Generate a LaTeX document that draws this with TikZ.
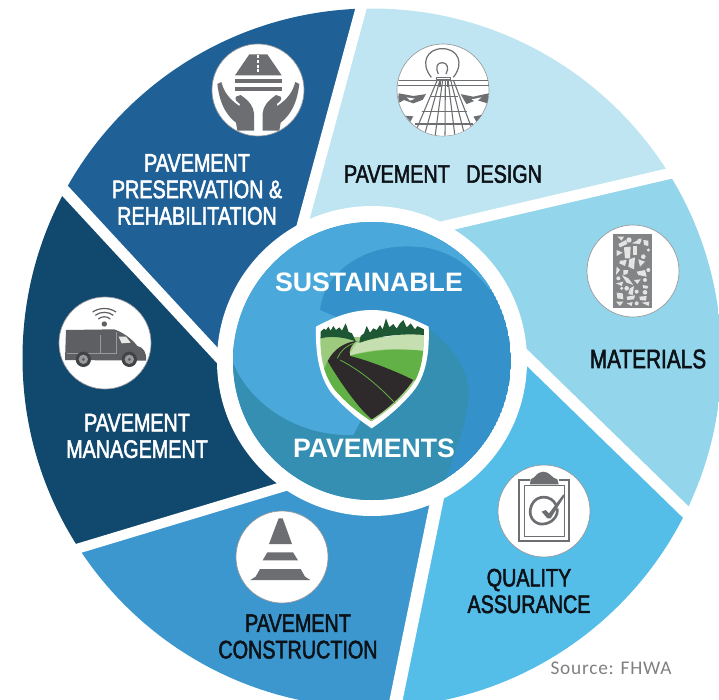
\documentclass[tikz,border=0pt]{standalone}
\usepackage{fontspec}
\setmainfont{Liberation Sans}
\newfontfamily\labfont[FakeStretch=.78,FakeBold=2]{Liberation Sans}
\newfontfamily\srcfont[LetterSpace=4]{Carlito}
\definecolor{cPres}{HTML}{1F6196}
\definecolor{cMgmt}{HTML}{10486E}
\definecolor{cCons}{HTML}{3B97CE}
\definecolor{cQual}{HTML}{54BDE8}
\definecolor{cMatl}{HTML}{93D5EB}
\definecolor{cDesn}{HTML}{BEE5F1}
\definecolor{cLite}{HTML}{4AA9DA}
\definecolor{cMid}{HTML}{3591C9}
\definecolor{cTeal}{HTML}{348FB3}
\definecolor{cIcon}{HTML}{6D6E71}
\definecolor{cVan}{HTML}{5E5F62}
\definecolor{cInk}{HTML}{0C1218}
\definecolor{cRoad}{HTML}{2E292B}
\definecolor{cTree}{HTML}{1D5733}
\definecolor{cGrnA}{HTML}{9CCB7E}
\definecolor{cGrnB}{HTML}{C6DFB0}
\definecolor{cGrnC}{HTML}{62B146}
\definecolor{cStone}{HTML}{E4E4E4}
\tikzset{
  zoomed/.style 2 args={shift={(#1,#2)},x=.25pt,y=-.25pt},
  gap/.style={draw=white,line width=#1*.75pt},
  icondisc/.style={circle,fill=white,draw=cIcon!70,line width=.5pt,minimum size=69pt,inner sep=0pt},
  seglabel/.style={align=center,font=\labfont\fontsize{19}{19.9}\selectfont},
  hublabel/.style={text=white,font=\bfseries\fontsize{20}{22}\selectfont,inner sep=0pt},
  thinink/.style={draw=cIcon,line width=.8pt}
}
\begin{document}
\begin{tikzpicture}[x=.75pt,y=-.75pt]
\useasboundingbox (0,0) rectangle (719,700);
\clip (0,0) rectangle (719,700);
\coordinate (c) at (372,361);
\coordinate (s1i) at (295,252); \coordinate (s1o) at (366,-10);
\coordinate (s2i) at (420,232); \coordinate (s2o) at (740,157);
\coordinate (s3i) at (515,346); \coordinate (s3o) at (730,555);
\coordinate (s4i) at (446,456); \coordinate (s4o) at (393,715);
\coordinate (s5i) at (310,478.5); \coordinate (s5o) at (40,560);
\coordinate (s6i) at (240,380); \coordinate (s6o) at (30,153);
% ---- wheel segments
\begin{scope}
\clip (372,358) circle [radius=349.5];
\fill[cPres] (c)--(s6i)--(s6o)--(-30,-30)--(s1o)--(s1i)--cycle;
\fill[cDesn] (c)--(s1i)--(s1o)--(760,-30)--(s2o)--(s2i)--cycle;
\fill[cMatl] (c)--(s2i)--(s2o)--(800,300)--(s3o)--(s3i)--cycle;
\fill[cQual] (c)--(s3i)--(s3o)--(760,760)--(s4o)--(s4i)--cycle;
\fill[cCons] (c)--(s4i)--(s4o)--(-20,760)--(s5o)--(s5i)--cycle;
\fill[cMgmt] (c)--(s5i)--(s5o)--(-60,300)--(s6o)--(s6i)--cycle;
\end{scope}
% ---- white separators and ring
\draw[gap=11] (s1i)--(s1o);
\draw[gap=11] (s2i)--(s2o);
\draw[gap=12] (s3i)--(s3o);
\draw[gap=13] (s4i)--(s4o);
\draw[gap=10] (s5i)--(s5o);
\draw[gap=11] (s6i)--(s6o);
\fill[white] (c) circle [radius=155];
% ---- hub disc with swirl
\begin{scope}
\clip (c) circle [radius=139];
\fill[cMid] (c) circle [radius=139];
\begin{scope}[zoomed={200}{230}]
\fill[cTeal] (500,300) -- (690,300) .. controls (770,360) and (815,440) .. (805,510)
  .. controls (795,600) and (760,680) .. (700,850) -- (0,850) -- (0,350) -- cycle;
\fill[cLite] (100,400) .. controls (150,520) and (290,620) .. (460,615)
  -- (520,500) -- (500,300) -- (360,240)
  .. controls (370,130) and (490,40) .. (640,50)
  .. controls (730,50) and (810,100) .. (870,180)
  -- (900,-60) -- (0,-60) -- (0,400) -- cycle;
\end{scope}
\end{scope}
% ---- shield
\begin{scope}[zoomed={200}{230}]
\fill[white] (348,290) .. controls (400,262) and (455,240) .. (515,240)
  .. controls (575,240) and (630,262) .. (686,290)
  .. controls (690,390) and (670,450) .. (635,490) .. controls (600,530) and (560,565) .. (515,595)
  .. controls (470,565) and (430,530) .. (395,490) .. controls (365,450) and (345,390) .. (348,290) -- cycle;
\begin{scope}
\clip (361,298) .. controls (410,272) and (460,252) .. (515,252)
  .. controls (570,252) and (620,272) .. (672,298)
  .. controls (672,390) and (660,440) .. (625,480)
  .. controls (590,520) and (555,548) .. (515,574)
  .. controls (475,548) and (440,520) .. (405,480) .. controls (375,440) and (358,390) .. (361,298) -- cycle;
\fill[cGrnA] (340,322) rectangle (700,600);
\fill[cGrnB] (470,338) .. controls (540,325) and (620,305) .. (690,310) -- (690,370)
  .. controls (600,350) and (520,355) .. (445,378) -- cycle;
\fill[cGrnC] (445,378) .. controls (520,360) and (600,352) .. (690,365) -- (690,500) -- (640,450)
  -- (460,395) -- cycle;
\fill[cGrnC] (383,393) -- (515,574) -- (440,560) -- (370,420) -- cycle;
\fill[cTree] (362,325) -- (362,305) -- (372,296) -- (378,300) -- (385,290) -- (392,302) -- (400,288)
  -- (408,300) -- (418,292) -- (426,302) -- (437,280) -- (446,306) -- (456,310) -- (468,335)
  -- (478,337) -- (482,318) -- (492,310) -- (500,288) -- (510,308) -- (520,295) -- (530,300)
  -- (540,285) -- (548,298) -- (558,265) -- (568,292) -- (580,282) -- (590,296) -- (600,280)
  -- (610,270) -- (620,292) -- (632,280) -- (645,298) -- (655,285) -- (672,298) -- (672,315)
  .. controls (620,310) and (540,315) .. (480,338) -- (455,330) .. controls (420,320) and (390,318) .. (362,325) -- cycle;
\fill[cRoad] (468,333) .. controls (430,338) and (400,360) .. (383,393)
  .. controls (410,440) and (470,530) .. (515,568)
  .. controls (560,540) and (610,495) .. (640,450)
  .. controls (580,420) and (500,390) .. (450,378)
  .. controls (445,360) and (455,345) .. (468,333) -- cycle;
\draw[cGrnC,line width=.6pt] (460,340) .. controls (435,350) and (420,365) .. (412,385);
\draw[cGrnC,line width=.6pt] (420,390) .. controls (480,420) and (540,470) .. (590,525);
\end{scope}
\end{scope}
% ---- icon discs
\node[icondisc] (iPres) at (258,90) {};
\node[icondisc] (iDesn) at (443,90) {};
\node[icondisc] (iMatl) at (633,271) {};
\node[icondisc] (iQual) at (544,511) {};
\node[icondisc] (iCons) at (282,557) {};
\node[icondisc] (iMgmt) at (105,343) {};
% hands and road
\begin{scope}[zoomed={200}{0}]
\fill[cIcon] (148,163) -- (202,163) -- (245,226) -- (105,226) -- cycle;
\foreach \yy in {166,180,194,208} \fill[white] (172,\yy) rectangle (178,\yy+9);
\fill[cIcon] (105,238) rectangle (245,250);
\fill[cIcon] (105,260) rectangle (245,272);
\foreach \sx/\ox in {1/0,-1/350} {
\begin{scope}[xshift=\ox*.25pt,x=\sx*.25pt]
\fill[cIcon] (52,252) -- (64,246) .. controls (72,275) and (85,295) .. (118,318)
  -- (120,312) .. controls (110,305) and (103,298) .. (108,290) -- (122,285)
  .. controls (150,305) and (160,320) .. (162,340) -- (162,392) -- (112,392) -- (108,368)
  .. controls (85,350) and (60,320) .. (52,252) -- cycle;
\end{scope}}
\end{scope}
% design icon
\begin{scope}[zoomed={200}{0}]
\begin{scope}
\clip (730,270) circle [radius=137];
\draw[thinink] (592,242) -- (870,242);
\draw[thinink] (592,256) -- (870,256);
\fill[cIcon] (596,280) -- (640,288) -- (680,282) -- (672,298) -- (640,310) -- (612,300) -- (594,310) -- cycle;
\fill[cIcon] (780,282) -- (820,290) -- (866,280) -- (868,312) -- (830,300) -- (800,312) -- (785,296) -- cycle;
\fill[white] (620,292) -- (645,296) -- (630,302) -- cycle;
\fill[white] (815,298) -- (845,292) -- (828,306) -- cycle;
\fill[cIcon] (592,345) -- (650,350) -- (670,400) -- (592,400) -- cycle;
\fill[cIcon] (868,340) -- (810,352) -- (790,400) -- (868,400) -- cycle;
\fill[white] (690,262) -- (770,262) -- (860,420) -- (600,420) -- cycle;
\foreach \xa/\xb in {712/640,720/672,728/705,736/735,744/765,752/795,760/825}
  \draw[thinink] (\xa,240) -- (\xb,410);
\foreach \yy/\xa/\xb in {290/690/775,335/665/800,372/645/820}
  \draw[thinink] (\xa,\yy) -- (\xb,\yy);
\fill[cIcon] (716,236) rectangle (722,262);
\fill[cIcon] (740,236) rectangle (746,262);
\end{scope}
\draw[thinink,line width=.9pt] (694,232) .. controls (660,190) and (680,146) .. (727,146)
  .. controls (774,146) and (794,190) .. (760,232);
\draw[thinink,line width=.9pt] (715,222) .. controls (705,200) and (712,188) .. (727,188)
  .. controls (742,188) and (748,205) .. (738,222);
\draw[thinink,line width=.9pt] (710,232) rectangle (752,240);
\end{scope}
% materials icon
\begin{scope}[zoomed={480}{220}]
\fill[cIcon!85] (400,42) rectangle (515,265);
\foreach \ptx/\pty/\rr in {447/60/8,478/62/6,440/205/7,425/205/5,495/217/7,470/215/6,470/250/6,495/180/6,505/150/6,490/110/7,505/90/5,415/175/6}
  \fill[cStone] (\ptx,\pty) circle [radius=\rr];
\fill[cStone] (412,50) -- (432,50) -- (425,62) -- cycle;
\fill[cStone] (415,72) -- (438,60) -- (442,72) -- (420,82) -- cycle;
\fill[cStone] (455,70) -- (485,55) -- (480,72) -- cycle;
\fill[cStone] (490,60) -- (505,62) -- (505,78) -- (492,75) -- cycle;
\fill[cStone] (432,82) -- (452,80) -- (450,115) -- (435,115) -- cycle;
\fill[cStone] (460,78) -- (472,78) -- (472,105) -- (460,105) -- cycle;
\fill[cStone] (410,90) -- (428,98) -- (410,108) -- cycle;
\fill[cStone] (420,122) -- (440,120) -- (435,138) -- (418,130) -- cycle;
\fill[cStone] (448,118) -- (465,112) -- (462,148) -- (445,140) -- cycle;
\fill[cStone] (475,118) -- (495,125) -- (480,140) -- cycle;
\fill[cStone] (410,140) -- (420,150) -- (408,165) -- cycle;
\fill[cStone] (430,150) -- (445,150) -- (442,162) -- (430,165) -- cycle;
\fill[cStone] (470,155) -- (495,150) -- (500,170) -- (475,165) -- cycle;
\fill[cStone] (425,165) -- (445,175) -- (460,195) -- (440,188) -- cycle;
\fill[cStone] (462,180) -- (482,178) -- (472,192) -- cycle;
\fill[cStone] (408,190) -- (430,185) -- (425,198) -- cycle;
\fill[cStone] (450,205) -- (462,198) -- (458,225) -- (445,222) -- cycle;
\fill[cStone] (488,195) -- (505,198) -- (502,206) -- (490,205) -- cycle;
\fill[cStone] (410,218) -- (428,220) -- (430,238) -- (412,235) -- cycle;
\fill[cStone] (440,230) -- (465,226) -- (462,238) -- (442,240) -- cycle;
\fill[cStone] (478,230) -- (500,228) -- (498,242) -- (480,240) -- cycle;
\fill[cStone] (408,245) -- (430,245) -- (420,258) -- cycle;
\fill[cStone] (485,248) -- (508,245) -- (506,258) -- cycle;
\fill[cStone] (440,250) -- (458,246) -- (455,258) -- cycle;
\end{scope}
% clipboard icon
\begin{scope}[zoomed={480}{220}]
\draw[cIcon,line width=1.6pt] (150,780) -- (118,780) -- (118,963) -- (268,963) -- (268,780) -- (236,780);
\draw[cIcon,line width=.6pt] (132,795) -- (132,950) -- (254,950) -- (254,795) -- cycle;
\fill[cIcon] (150,793) -- (152,778) .. controls (165,775) and (170,755) .. (190,755)
  .. controls (210,755) and (215,775) .. (232,778) -- (236,793) -- cycle;
\draw[cIcon,line width=2pt] (228,855) .. controls (215,825) and (170,822) .. (155,855)
  .. controls (140,890) and (165,915) .. (190,912) .. controls (215,910) and (235,890) .. (232,865);
\fill[cIcon] (185,875) -- (197,870) -- (207,880) -- (250,823) -- (254,828) -- (212,895) -- (202,895) -- cycle;
\end{scope}
% cone icon
\begin{scope}[zoomed={60}{470}]
\fill[cIcon] (656,145) -- (668,145) -- (696,222) -- (627,222) -- cycle;
\fill[cIcon] (622,247) -- (699,247) -- (714,271) -- (608,271) -- cycle;
\fill[cIcon] (600,297) -- (722,297) -- (735,320) -- (751,330) -- (571,330) -- (587,320) -- cycle;
\end{scope}
% van icon
\begin{scope}[zoomed={40}{290}]
\fill[cVan] (78,120) -- (222,118) .. controls (245,125) and (275,145) .. (292,168)
  .. controls (310,172) and (320,185) .. (318,212) -- (75,210) -- cycle;
\draw[cIcon!70,line width=.3pt] (180,135) -- (180,190) -- (80,190);
\draw[cIcon!70,line width=.3pt] (230,125) -- (230,190) -- (180,190);
\fill[white!85!cVan] (236,140) -- (258,140) -- (272,158) -- (245,160) -- cycle;
\foreach \wx in {130,268} {
  \fill[cVan!70!black] (\wx,208) circle [radius=23];
  \fill[cIcon!70] (\wx,208) circle [radius=14];
  \fill[cVan] (\wx,208) circle [radius=5];
}
\fill[cVan] (193,102) circle [radius=8];
\draw[cVan,line width=.9pt] (175,87) .. controls (185,78) and (201,78) .. (211,87);
\draw[cVan,line width=.9pt] (166,76) .. controls (180,64) and (206,64) .. (220,76);
\draw[cVan,line width=.9pt] (158,66) .. controls (178,52) and (208,52) .. (228,66);
\end{scope}
% ---- labels
\node[hublabel] (tSus) at (369,282) {SUSTAINABLE};
\node[hublabel] (tPav) at (374,448) {PAVEMENTS};
\node[seglabel,text=cInk] (tDesn) at (443,174) {PAVEMENT\hspace{.65em}DESIGN};
\node[seglabel,text=cInk,font=\labfont\fontsize{20}{21}\selectfont] (tMatl) at (648,359) {MATERIALS};
\node[seglabel,text=cInk] (tQual) at (529,591) {QUALITY\\ASSURANCE};
\node[seglabel,text=cInk] (tCons) at (298,636.5) {PAVEMENT\\CONSTRUCTION};
\node[seglabel,text=white] (tPres) at (197,189.5) {PAVEMENT\\PRESERVATION \&\\REHABILITATION};
\node[seglabel,text=white] (tMgmt) at (137,436) {PAVEMENT\\MANAGEMENT};
\node[text=black!50,font=\srcfont\fontsize{14.5}{16}\selectfont,inner sep=0pt] (tSrc) at (611,668) {Source: FHWA};
\end{tikzpicture}
\end{document}
